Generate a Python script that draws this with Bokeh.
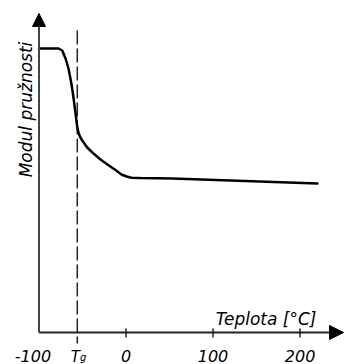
import math

from bokeh.core.properties import value
from bokeh.embed import file_html
from bokeh.models import Arrow, NormalHead, Range1d
from bokeh.plotting import figure
from bokeh.resources import INLINE

# Modulus of elasticity vs. temperature (relative units, axis at 0)
temperature = [-100, -77.6, -73.3, -69.5, -66.1, -63.0, -60.7, -59.2, -58.0,
               -56.3, -55.0, -53.0, -50.3, -44.6, -37.4, -29.3, -21.3, -12.1,
               -5.2, 0.6, 6.3, 16.7, 53.4, 220]
modulus = [284, 284, 282, 274, 264, 250, 237, 227, 219,
           207, 201, 196, 192, 185, 179, 173, 168, 162.5,
           158, 156, 154.8, 154.4, 154, 149]

glass_temp = -56
tick_values = [-100, 0, 100, 200]
tick_labels = ["-100", "0", "100", "200"]
x_title = "Teplota [°C]"
y_title = "Modul pružnosti"

FONT = value("DejaVu Sans")

p = figure(width=344, height=364, output_backend="svg", toolbar_location=None,
           x_range=Range1d(-144.25, 251.1), y_range=Range1d(-32, 332),
           x_axis_location=None, y_axis_location=None,
           min_border=0, min_border_left=0, min_border_right=0,
           min_border_top=0, min_border_bottom=0)
p.outline_line_color = None
p.grid.visible = False
p.background_fill_color = "white"
p.border_fill_color = "white"

axis_color = "#222222"
x_min = tick_values[0]

# Hand-drawn axes with arrow heads
p.add_layout(Arrow(x_start=x_min, y_start=0, x_end=250, y_end=0,
                   line_color=axis_color, line_width=2,
                   end=NormalHead(size=14, fill_color="black", line_color="black")))
p.add_layout(Arrow(x_start=x_min, y_start=0, x_end=x_min, y_end=319,
                   line_color="#444444", line_width=2,
                   end=NormalHead(size=13, fill_color="black", line_color="black")))

# Tick marks on the temperature axis
ticks_inner = tick_values[1:]
p.segment(x0=ticks_inner, y0=[4] * len(ticks_inner),
          x1=ticks_inner, y1=[-5] * len(ticks_inner),
          line_color=axis_color, line_width=1.5)

# Glass transition marker
p.segment(x0=[glass_temp], y0=[302], x1=[glass_temp], y1=[-11],
          line_color="#222222", line_width=1.5, line_dash="14 4")

# Modulus curve
p.line(temperature, modulus, line_color="black", line_width=2.5,
       line_join="round", line_cap="round")

# Tick labels
p.text(x=ticks_inner, y=[-23] * len(ticks_inner), text=tick_labels[1:],
       text_font=FONT, text_font_style="italic", text_font_size="16px",
       text_align="center", text_baseline="alphabetic", text_color="black")
p.text(x=[x_min], y=[-23], text=[tick_labels[0]], x_offset=-6,
       text_font=FONT, text_font_style="italic", text_font_size="16px",
       text_align="center", text_baseline="alphabetic", text_color="black")

# T_g label
p.text(x=[glass_temp], y=[-24], text=["T"], x_offset=-2,
       text_font=FONT, text_font_style="italic", text_font_size="15px",
       text_align="center", text_baseline="alphabetic", text_color="black")
p.text(x=[glass_temp], y=[-25], text=["g"], x_offset=6,
       text_font=FONT, text_font_style="italic", text_font_size="10px",
       text_align="center", text_baseline="alphabetic", text_color="black")

# Axis titles
p.text(x=[161], y=[14], text=[x_title],
       text_font=FONT, text_font_style="italic", text_font_size="17px",
       text_align="center", text_baseline="alphabetic", text_color="black")
p.text(x=[-115.5], y=[223], text=[y_title], angle=math.pi / 2,
       text_font=FONT, text_font_style="italic", text_font_size="17px",
       text_align="center", text_baseline="alphabetic", text_color="black")

open("out.html", "w").write(file_html(p, INLINE))
